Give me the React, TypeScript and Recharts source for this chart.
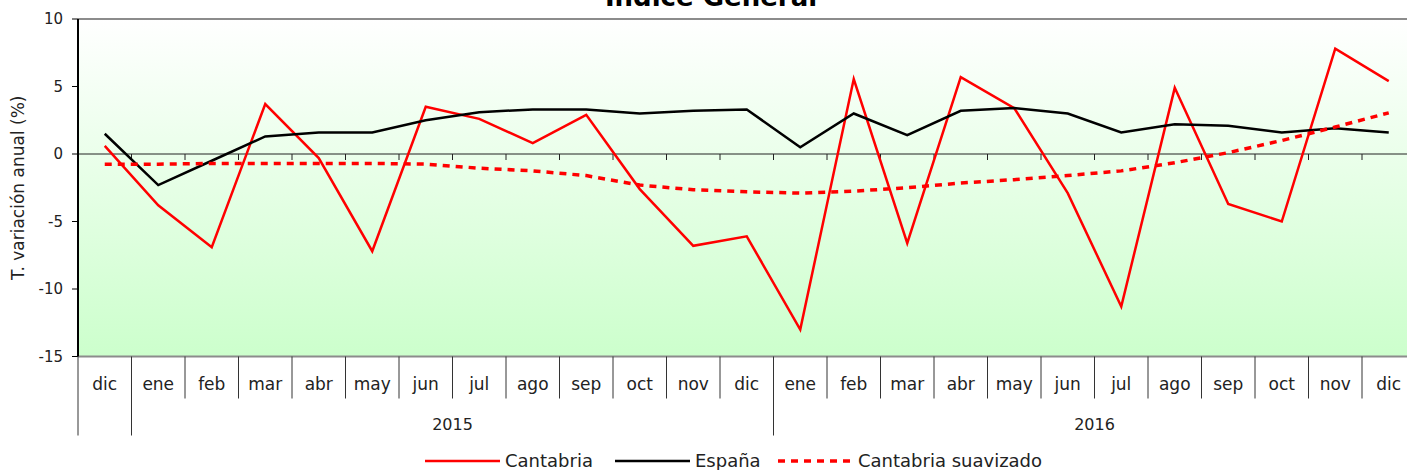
import { CartesianGrid, Line, LineChart, ReferenceLine, XAxis, YAxis } from 'recharts';

const months = [
  'dic',
  'ene', 'feb', 'mar', 'abr', 'may', 'jun', 'jul', 'ago', 'sep', 'oct', 'nov', 'dic',
  'ene', 'feb', 'mar', 'abr', 'may', 'jun', 'jul', 'ago', 'sep', 'oct', 'nov', 'dic',
];

const cantabria = [
  0.6,
  -3.8, -6.9, 3.7, -0.3, -7.2, 3.5, 2.6, 0.8, 2.9, -2.6, -6.8, -6.1,
  -13.0, 5.55, -6.6, 5.7, 3.4, -2.9, -11.3, 4.9, -3.7, -5.0, 7.8, 5.4,
];

const espana = [
  1.5,
  -2.3, -0.5, 1.3, 1.6, 1.6, 2.5, 3.1, 3.3, 3.3, 3.0, 3.2, 3.3,
  0.5, 3.0, 1.4, 3.2, 3.4, 3.0, 1.6, 2.2, 2.1, 1.6, 1.9, 1.6,
];

const cantabriaSuavizado = [
  -0.75,
  -0.75, -0.7, -0.7, -0.7, -0.7, -0.75, -1.05, -1.25, -1.6, -2.3, -2.65, -2.8,
  -2.9, -2.75, -2.5, -2.15, -1.9, -1.6, -1.25, -0.65, 0.1, 1.0, 2.0, 3.05,
];

const yearGroups = [
  { label: '', from: 0, to: 0 },
  { label: '2015', from: 1, to: 12 },
  { label: '2016', from: 13, to: 24 },
];

const yTicks = [-15, -10, -5, 0, 5, 10];

const legendItems = [
  { label: 'Cantabria', color: '#ff0000', dash: undefined as string | undefined },
  { label: 'España', color: '#000000', dash: undefined as string | undefined },
  { label: 'Cantabria suavizado', color: '#ff0000', dash: '7 6' },
];

const data = months.map((month, i) => ({
  month,
  cantabria: cantabria[i],
  espana: espana[i],
  suavizado: cantabriaSuavizado[i],
}));

const FONT = '"DejaVu Sans", sans-serif';
const CHART_W = 1431;
const CHART_H = 470;
const PLOT_LEFT = 78;
const PLOT_W = 1337.5;
const BAND = PLOT_W / months.length;

function MonthTick(props: any) {
  const { x, y, payload } = props;
  const i: number = payload.index;
  const left = x - BAND / 2;
  const group = yearGroups.find((g) => g.from === i);
  const long = !!group;
  return (
    <g>
      <line x1={left} x2={left} y1={y} y2={y + (long ? 79 : 42)} stroke="#333" strokeWidth={1} />
      <text x={x} y={y + 33} textAnchor="middle" fontSize={17} fill="#222" fontFamily={FONT}>
        {payload.value}
      </text>
      {group && group.label ? (
        <text
          x={left + ((group.to - group.from + 1) * BAND) / 2}
          y={y + 73}
          textAnchor="middle"
          fontSize={16}
          fill="#222"
          fontFamily={FONT}
        >
          {group.label}
        </text>
      ) : null}
    </g>
  );
}

function ZeroLine(props: any) {
  const { x1, x2, y1 } = props;
  const step = (x2 - x1) / months.length;
  let d = `M${x1},${y1}H${x2}`;
  for (let i = 1; i <= months.length; i++) {
    d += `M${x1 + i * step},${y1}v6`;
  }
  return <path d={d} stroke="#222" strokeWidth={1} fill="none" />;
}

export default function App() {
  return (
    <div style={{ position: 'absolute', left: 0, top: 0, width: 1407, height: 470, overflow: 'hidden', background: '#fff' }}>
      <LineChart
        width={CHART_W}
        height={CHART_H}
        data={data}
        margin={{ top: 19, right: CHART_W - PLOT_LEFT - PLOT_W, left: 0, bottom: 33.5 }}
      >
        <defs>
          <linearGradient id="plotBg" x1="0" y1="0" x2="0" y2="1">
            <stop offset="0%" stopColor="#ffffff" />
            <stop offset="100%" stopColor="#ccffcc" />
          </linearGradient>
        </defs>
        <CartesianGrid horizontal={false} vertical={false} fill="url(#plotBg)" fillOpacity={1} />
        <XAxis
          dataKey="month"
          interval={0}
          height={80}
          padding={{ left: BAND / 2, right: BAND / 2 }}
          tickSize={0}
          tickMargin={0}
          tickLine={false}
          axisLine={{ stroke: '#8c8c8c', strokeWidth: 2 }}
          tick={<MonthTick />}
        />
        <YAxis
          domain={[-15, 10]}
          ticks={yTicks}
          width={PLOT_LEFT}
          tickSize={6}
          tickMargin={9}
          axisLine={{ stroke: '#000', strokeWidth: 2 }}
          tickLine={{ stroke: '#000' }}
          tick={{ fontSize: 15, fill: '#222', fontFamily: FONT }}
          label={{
            value: 'T. variación anual (%)',
            angle: -90,
            position: 'insideLeft',
            offset: 18,
            style: { textAnchor: 'middle', fontSize: 17, fill: '#222', fontFamily: FONT },
          }}
        />
        <ReferenceLine y={10} stroke="#8c8c8c" strokeWidth={2} />
        <ReferenceLine y={0} shape={<ZeroLine />} />
        <Line type="linear" dataKey="cantabria" stroke="#ff0000" strokeWidth={2.5} dot={false} isAnimationActive={false} />
        <Line type="linear" dataKey="espana" stroke="#000000" strokeWidth={2.5} dot={false} isAnimationActive={false} />
        <Line
          type="linear"
          dataKey="suavizado"
          stroke="#ff0000"
          strokeWidth={3.5}
          strokeDasharray="7 6"
          dot={false}
          isAnimationActive={false}
        />
      </LineChart>
      <svg
        width={1407}
        height={470}
        style={{ position: 'absolute', left: 0, top: 0, pointerEvents: 'none' }}
        fontFamily={FONT}
      >
        <text x={711} y={6} textAnchor="middle" fontSize={26} fontWeight="bold" fill="#000">
          Índice General
        </text>
        <g>
          {legendItems.map((item, i) => {
            const starts = [425, 615, 778];
            const x0 = starts[i];
            return (
              <g key={item.label}>
                <line
                  x1={x0}
                  x2={x0 + 75}
                  y1={461}
                  y2={461}
                  stroke={item.color}
                  strokeWidth={item.dash ? 3.5 : 2.5}
                  strokeDasharray={item.dash}
                />
                <text x={x0 + 80} y={467} fontSize={18} fill="#222">
                  {item.label}
                </text>
              </g>
            );
          })}
        </g>
      </svg>
    </div>
  );
}
